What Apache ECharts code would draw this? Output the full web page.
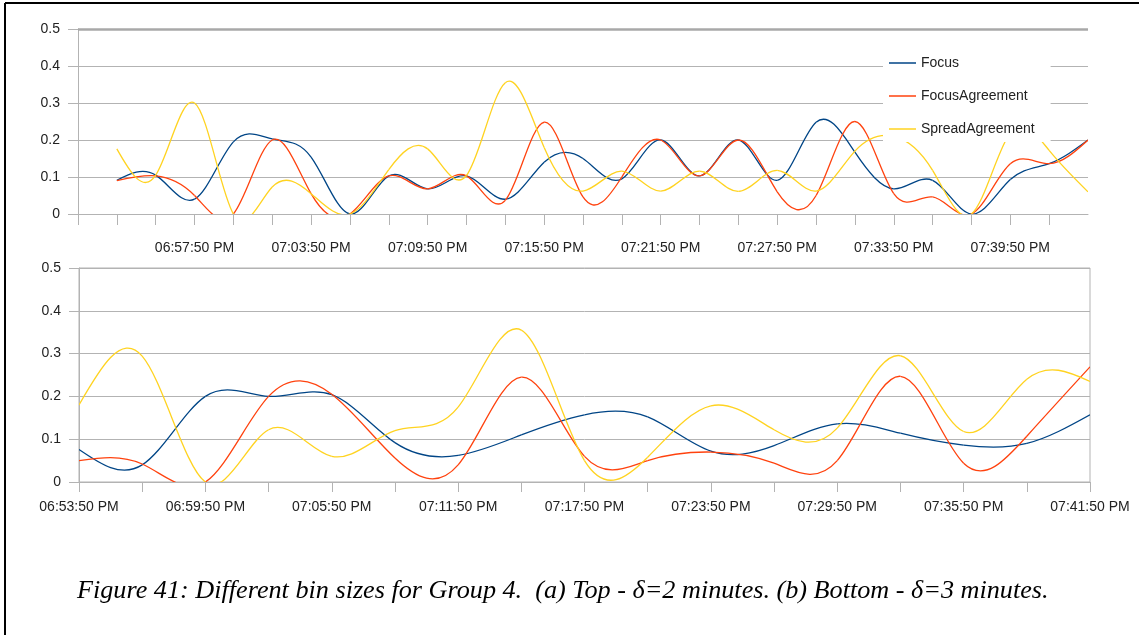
<!DOCTYPE html>
<html>
<head>
<meta charset="utf-8">
<script src="https://cdn.jsdelivr.net/npm/echarts@6/dist/echarts.min.js"></script>
<style>
html,body{margin:0;padding:0;background:#fff;}
#chart{width:1139px;height:638px;}
</style>
</head>
<body>
<div id="chart"></div>
<script>
// ---- Top chart (bin = 2 minutes) ----
var topTimes = ['06:51:50 PM','06:53:50 PM','06:55:50 PM','06:57:50 PM','06:59:50 PM','07:01:50 PM','07:03:50 PM','07:05:50 PM','07:07:50 PM','07:09:50 PM','07:11:50 PM','07:13:50 PM','07:15:50 PM','07:17:50 PM','07:19:50 PM','07:21:50 PM','07:23:50 PM','07:25:50 PM','07:27:50 PM','07:29:50 PM','07:31:50 PM','07:33:50 PM','07:35:50 PM','07:37:50 PM','07:39:50 PM','07:41:50 PM','07:43:50 PM'];
var topFocus = [null,0.091,0.105,0.04,0.195,0.203,0.154,0,0.103,0.068,0.103,0.04,0.14,0.15,0.095,0.2,0.103,0.2,0.091,0.248,0.167,0.068,0.091,0,0.093,0.136,0.2];
var topFocusAgreement = [null,0.09,0.103,0.05,0,0.2,0.055,0,0.103,0.068,0.103,0.037,0.248,0.046,0.1,0.2,0.103,0.2,0.06,0.05,0.25,0.055,0.046,0,0.136,0.136,0.2];
var topSpreadAgreement = [null,0.176,0.105,0.3,0,0.073,0.055,0,0.12,0.176,0.104,0.355,0.18,0.062,0.116,0.062,0.116,0.061,0.118,0.062,0.17,0.21,0.118,0,0.22,0.172,0.06];

// ---- Bottom chart (bin = 3 minutes) ----
var bottomTimes = ['06:53:50 PM','06:56:50 PM','06:59:50 PM','07:02:50 PM','07:05:50 PM','07:08:50 PM','07:11:50 PM','07:14:50 PM','07:17:50 PM','07:20:50 PM','07:23:50 PM','07:26:50 PM','07:29:50 PM','07:32:50 PM','07:35:50 PM','07:38:50 PM','07:41:50 PM'];
var bottomFocus = [0.076,0.04,0.2,0.2,0.204,0.092,0.062,0.11,0.157,0.152,0.072,0.085,0.136,0.114,0.086,0.09,0.157];
var bottomFocusAgreement = [0.05,0.042,0,0.2,0.205,0.056,0.04,0.245,0.06,0.05,0.07,0.044,0.05,0.247,0.044,0.107,0.269];
var bottomSpreadAgreement = [0.18,0.294,0,0.122,0.06,0.12,0.175,0.355,0.05,0.058,0.178,0.122,0.126,0.295,0.118,0.24,0.235];

var seriesNames = ['Focus','FocusAgreement','SpreadAgreement'];
var colors = ['#004586','#ff420e','#ffd320'];
var captionText = 'Figure 41: Different bin sizes for Group 4.  (a) Top - \u03b4=2 minutes. (b) Bottom - \u03b4=3 minutes.';

var gridGray = '#b3b3b3';
var labelFont = {color:'#222', fontFamily:'Liberation Sans, Arial, sans-serif', fontSize:14};

function yAxisDef(gridIndex){
  return {
    type:'value', gridIndex:gridIndex, min:0, max:0.5, interval:0.1,
    axisLine:{show:true, lineStyle:{color:gridGray, width:1}},
    axisTick:{show:true, length:10, lineStyle:{color:gridGray}},
    axisLabel:Object.assign({margin:18}, labelFont),
    splitLine:{show:true, lineStyle:{color:gridGray, width:1}}
  };
}

// Natural cubic spline through the pixel positions of the data points.
function splineSegments(pts){
  var n = pts.length - 1;
  var M = new Array(n + 1).fill(0);
  if (n >= 2) {
    var a = [], b = [], c = [], d = [];
    for (var i = 1; i < n; i++) {
      var h0 = pts[i][0] - pts[i-1][0], h1 = pts[i+1][0] - pts[i][0];
      a.push(h0); b.push(2 * (h0 + h1)); c.push(h1);
      d.push(6 * ((pts[i+1][1] - pts[i][1]) / h1 - (pts[i][1] - pts[i-1][1]) / h0));
    }
    var m = b.length;
    for (var k = 1; k < m; k++) {
      var w = a[k] / b[k-1];
      b[k] -= w * c[k-1];
      d[k] -= w * d[k-1];
    }
    var sol = new Array(m);
    sol[m-1] = d[m-1] / b[m-1];
    for (var k2 = m - 2; k2 >= 0; k2--) sol[k2] = (d[k2] - c[k2] * sol[k2+1]) / b[k2];
    for (var k3 = 0; k3 < m; k3++) M[k3+1] = sol[k3];
  }
  var segs = [];
  for (var s = 0; s < n; s++) {
    var p0 = pts[s], p1 = pts[s+1], h = p1[0] - p0[0];
    var slope = (p1[1] - p0[1]) / h;
    var d0 = slope - h * (2 * M[s] + M[s+1]) / 6;
    var d1 = slope + h * (M[s] + 2 * M[s+1]) / 6;
    segs.push({
      x1:p0[0], y1:p0[1], x2:p1[0], y2:p1[1],
      cpx1:p0[0] + h/3, cpy1:p0[1] + d0 * h/3,
      cpx2:p1[0] - h/3, cpy2:p1[1] - d1 * h/3
    });
  }
  return segs;
}

function splineSeries(name, idx, values, axisIdx){
  return {
    name:name, type:'custom', xAxisIndex:axisIdx, yAxisIndex:axisIdx,
    coordinateSystem:'cartesian2d',
    data:values.map(function(v, i){ return [i, v]; }),
    itemStyle:{color:colors[idx]},
    encode:{x:0, y:1},
    animation:false, silent:true,
    renderItem:function(params, api){
      var i = params.dataIndex;
      if (values[i] == null || i >= values.length - 1 || values[i+1] == null) return null;
      var first = i;
      while (first > 0 && values[first-1] != null) first--;
      var last = i + 1;
      while (last < values.length - 1 && values[last+1] != null) last++;
      var pts = [];
      for (var j = first; j <= last; j++) pts.push(api.coord([j, values[j]]));
      var seg = splineSegments(pts)[i - first];
      var cs = params.coordSys;
      return {
        type:'bezierCurve',
        shape:seg,
        style:{stroke:colors[idx], lineWidth:1.3, fill:null},
        clipPath:{type:'rect', shape:{x:cs.x, y:cs.y - 1, width:cs.width, height:cs.height + 1}}
      };
    }
  };
}

var option = {
  backgroundColor:'#fff',
  animation:false,
  grid:[
    {left:78, right:51, top:29, height:185, containLabel:false},
    {left:79, right:49, top:268, height:214, containLabel:false, show:true, borderColor:gridGray, borderWidth:1, backgroundColor:'transparent'}
  ],
  legend:{
    data:seriesNames.map(function(n){ return {name:n, icon:'rect'}; }),
    orient:'vertical', left:883, top:45,
    itemWidth:27, itemHeight:1.5, itemGap:19,
    padding:[11,16,6,6], backgroundColor:'#fff', z:10,
    textStyle:{color:'#222', fontFamily:'Liberation Sans, Arial, sans-serif', fontSize:14}
  },
  xAxis:[
    {
      type:'category', gridIndex:0, data:topTimes, boundaryGap:false,
      axisLine:{show:true, lineStyle:{color:gridGray}},
      axisTick:{show:true, length:11, lineStyle:{color:gridGray}, interval:function(i){return i < topTimes.length-1;}},
      axisLabel:Object.assign({margin:27, interval:function(i){return i>0 && i%3===0 && i<topTimes.length-1;}}, labelFont),
      splitLine:{show:false}
    },
    {
      type:'category', gridIndex:1, data:bottomTimes, boundaryGap:false,
      axisLine:{show:true, lineStyle:{color:gridGray}},
      axisTick:{show:true, length:10, lineStyle:{color:gridGray}, interval:0},
      axisLabel:Object.assign({margin:18, interval:1}, labelFont),
      splitLine:{show:false}
    }
  ],
  yAxis:[yAxisDef(0), yAxisDef(1)],
  series:[
    splineSeries(seriesNames[0],0,topFocus,0),
    splineSeries(seriesNames[1],1,topFocusAgreement,0),
    splineSeries(seriesNames[2],2,topSpreadAgreement,0),
    splineSeries(seriesNames[0],0,bottomFocus,1),
    splineSeries(seriesNames[1],1,bottomFocusAgreement,1),
    splineSeries(seriesNames[2],2,bottomSpreadAgreement,1),
    {
      type:'line', xAxisIndex:0, yAxisIndex:0, data:[], silent:true, animation:false,
      markLine:{
        silent:true, symbol:['none','none'], label:{show:false}, animation:false,
        lineStyle:{color:'#a8a8a8', width:2.5, type:'solid'},
        data:[{yAxis:0.5}]
      }
    }
  ],
  graphic:[
    {type:'line', shape:{x1:5, y1:3, x2:1139, y2:3}, style:{stroke:'#000', lineWidth:2}, silent:true},
    {type:'line', shape:{x1:5, y1:3, x2:5, y2:635}, style:{stroke:'#000', lineWidth:2}, silent:true},
    {type:'text', left:77, top:578, silent:true,
     style:{text:captionText, fill:'#000', font:'italic 26.2px "Liberation Serif", "Times New Roman", serif'}}
  ]
};

var chart = echarts.init(document.getElementById('chart'), null, {renderer:'canvas'});
chart.setOption(option);
</script>
</body>
</html>
